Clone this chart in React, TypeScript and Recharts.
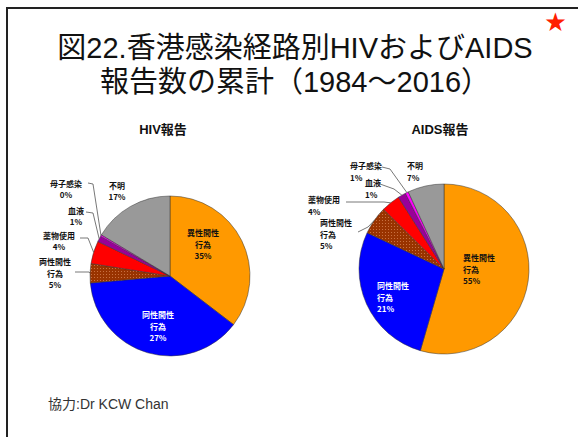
import React from "react";
import { PieChart, Pie, Cell } from "recharts";

const categories = ["異性間性行為", "同性間性行為", "両性間性行為", "薬物使用", "血液", "母子感染", "不明"];
// slice sizes as they appear in the picture (%)
const hivShares = [35.4, 38.2, 3.9, 4.6, 1.2, 0.3, 16.4];
const aidsShares = [54.5, 27.5, 5.4, 3.6, 1.5, 0.6, 6.9];
// printed labels
const hivLabels = ["35%", "27%", "5%", "4%", "1%", "0%", "17%"];
const aidsLabels = ["55%", "21%", "5%", "4%", "1%", "1%", "7%"];

const COLORS = ["#FF9900", "#0000FF", "url(#brownDots)", "#FF0000", "#990099", "#FF00FF", "#999999"];
const RAD = Math.PI / 180;
const JP = '"Liberation Sans", Arial, "Noto Sans CJK JP", sans-serif';
const LABEL_FONT = '"Noto Sans CJK JP", "Liberation Sans", sans-serif';

type LabelPos = { t: [number, number]; white?: boolean; leader?: [number, number][] };

const hivPos: LabelPos[] = [
  { t: [33, -32] },
  { t: [-12, 50], white: true },
  { t: [-115, -3], leader: [[-95, -4], [-81, -4]] },
  { t: [-111, -35], leader: [[-90, -38], [-82, -38]] },
  { t: [-94, -60], leader: [[-84, -64], [-77, -63]] },
  { t: [-104, -87], leader: [[-82, -93], [-77, -92]] },
  { t: [-53, -85] },
];

const aidsPos: LabelPos[] = [
  { t: [19, 0] },
  { t: [-67, 28], white: true },
  { t: [-124, -35], leader: [[-86, -37], [-76, -42]] },
  { t: [-136, -63.5], leader: [[-98, -67], [-60, -67]] },
  { t: [-79, -80.5], leader: [[-64, -85], [-50, -80]] },
  { t: [-94, -97.5], leader: [[-62, -102], [-54, -100]] },
  { t: [-37, -97.5] },
];

const splitName = (s: string) => (s.length > 4 ? [s.slice(0, 4), s.slice(4)] : [s]);

function makeLabel(pos: LabelPos[], shares: string[], anchor: "start" | "middle") {
  return (props: any) => {
    const { cx, cy, midAngle, outerRadius, index } = props;
    const p = pos[index];
    const lines = [...splitName(categories[index]), shares[index]];
    const ex = cx + outerRadius * Math.cos(-midAngle * RAD);
    const ey = cy + outerRadius * Math.sin(-midAngle * RAD);
    const n = lines.length;
    return (
      <g key={`lbl-${index}`}>
        {p.leader && (
          <polyline
            points={[...p.leader.map(([x, y]) => `${cx + x},${cy + y}`), `${ex},${ey}`].join(" ")}
            fill="none"
            stroke="#555"
            strokeWidth={0.8}
          />
        )}
        <text
          x={cx + p.t[0]}
          y={cy + p.t[1]}
          textAnchor={anchor}
          fontFamily={LABEL_FONT}
          fontSize={8}
          fontWeight="bold"
          fill={p.white ? "#fff" : "#111"}
        >
          {lines.map((l, i) => (
            <tspan key={i} x={cx + p.t[0]} y={cy + p.t[1] + (i - (n - 1) / 2) * 11.5} dominantBaseline="central">
              {l}
            </tspan>
          ))}
        </text>
      </g>
    );
  };
}

export default function App() {
  const hivData = categories.map((name, i) => ({ name, value: hivShares[i] }));
  const aidsData = categories.map((name, i) => ({ name, value: aidsShares[i] }));

  return (
    <div style={{ position: "absolute", left: 0, top: 0, width: 578, height: 437, background: "#fff", overflow: "hidden", fontFamily: JP }}>
      <div style={{ position: "absolute", left: 6, top: 7, right: -10, bottom: -10, borderTop: "2px solid #222", borderLeft: "2px solid #222" }} />
      <div style={{ position: "absolute", left: 545, top: 10, color: "#FF2000", fontSize: 21, lineHeight: "24px" }}>★</div>
      <div style={{ position: "absolute", left: 0, width: 590, top: 31, textAlign: "center", fontSize: 29, lineHeight: "34px", color: "#111" }}>
        図22.香港感染経路別HIVおよびAIDS
        <br />
        報告数の累計（1984～2016）
      </div>
      <div style={{ position: "absolute", left: 113, width: 100, top: 119, textAlign: "center", fontSize: 13, fontWeight: "bold", color: "#111" }}>
        HIV報告
      </div>
      <div style={{ position: "absolute", left: 390, width: 100, top: 119, textAlign: "center", fontSize: 13, fontWeight: "bold", color: "#111" }}>
        AIDS報告
      </div>
      <div style={{ position: "absolute", left: 48, top: 393, fontSize: 14, color: "#333" }}>協力:Dr KCW Chan</div>
      <div style={{ position: "absolute", left: 0, top: 0 }}>
        <PieChart width={578} height={437} margin={{ top: 0, right: 0, bottom: 0, left: 0 }}>
          <defs>
            <pattern id="brownDots" width="3" height="3" patternUnits="userSpaceOnUse">
              <rect width="3" height="3" fill="#993300" />
              <rect x="1" y="1" width="1" height="1" fill="#C87040" />
            </pattern>
          </defs>
          <Pie
            data={hivData}
            dataKey="value"
            cx={170}
            cy={276}
            outerRadius={80}
            startAngle={90}
            endAngle={-270}
            stroke="#333"
            strokeWidth={0.5}
            label={makeLabel(hivPos, hivLabels, "middle")}
            labelLine={false}
            isAnimationActive={false}
          >
            {hivData.map((d, i) => (
              <Cell key={d.name} fill={COLORS[i]} />
            ))}
          </Pie>
          <Pie
            data={aidsData}
            dataKey="value"
            cx={444}
            cy={269}
            outerRadius={85}
            startAngle={90}
            endAngle={-270}
            stroke="#333"
            strokeWidth={0.5}
            label={makeLabel(aidsPos, aidsLabels, "start")}
            labelLine={false}
            isAnimationActive={false}
          >
            {aidsData.map((d, i) => (
              <Cell key={d.name} fill={COLORS[i]} />
            ))}
          </Pie>
        </PieChart>
      </div>
    </div>
  );
}
